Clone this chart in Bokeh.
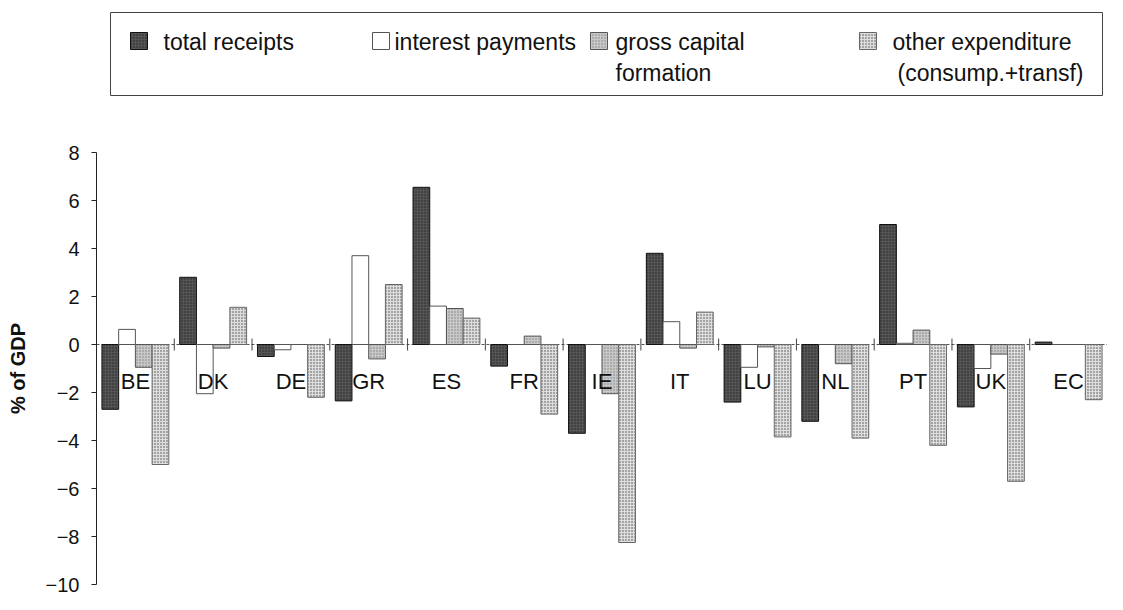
from bokeh.plotting import figure
from bokeh.models import ColumnDataSource, Range1d, FixedTicker
from bokeh.layouts import column
from bokeh.core.properties import value
from bokeh.embed import file_html
from bokeh.resources import INLINE

categories = ["BE", "DK", "DE", "GR", "ES", "FR", "IE", "IT", "LU", "NL", "PT", "UK", "EC"]
total_receipts = [-2.7, 2.8, -0.5, -2.35, 6.55, -0.9, -3.7, 3.8, -2.4, -3.2, 5.0, -2.6, 0.1]
interest_payments = [0.63, -2.05, -0.22, 3.7, 1.6, 0.0, 0.0, 0.95, -0.95, 0.0, 0.05, -1.0, 0.0]
gross_capital = [-0.95, -0.15, 0.0, -0.6, 1.5, 0.35, -2.05, -0.15, -0.1, -0.8, 0.6, -0.4, 0.0]
other_expenditure = [-5.0, 1.55, -2.2, 2.5, 1.1, -2.9, -8.25, 1.35, -3.85, -3.9, -4.2, -5.7, -2.3]
y_ticks = [-10, -8, -6, -4, -2, 0, 2, 4, 6, 8]

FONT = "Liberation Sans"
W = 1107
LEFT = 96

series = [
    ("total receipts", total_receipts, dict(fill_color="#555555", line_color="#111111",
                                            hatch_pattern="dot", hatch_color="#222222",
                                            hatch_scale=3, hatch_weight=1)),
    ("interest payments", interest_payments, dict(fill_color="white", line_color="#555555")),
    ("gross capital formation", gross_capital, dict(fill_color="#c8c8c8", line_color="#555555",
                                                    hatch_pattern="dot", hatch_color="#808080",
                                                    hatch_scale=3, hatch_weight=1)),
    ("other expenditure", other_expenditure, dict(fill_color="#dedede", line_color="#666666",
                                                  hatch_pattern="dot", hatch_color="#4a4a4a",
                                                  hatch_scale=3, hatch_weight=1.2)),
]
offsets = [-0.3225, -0.1075, 0.1075, 0.3225]
bar_w = 0.215

# ---------- legend figure (coordinates in pixels) ----------
LEG_H = 130
leg = figure(width=W, height=LEG_H, x_range=Range1d(LEFT, W), y_range=Range1d(LEG_H, 0),
             output_backend="svg", toolbar_location=None, x_axis_type=None, y_axis_type=None,
             min_border_left=LEFT, min_border_right=0, min_border_top=0, min_border_bottom=0)
leg.grid.visible = False
leg.outline_line_color = None
leg.quad(left=[110], right=[1102], top=[12], bottom=[95], fill_color=None,
         line_color="#444444", line_width=1)

sw_x = [130, 372, 590, 859]
txt_x = [163, 394, 615, 892]
labels_row1 = ["total receipts", "interest payments", "gross capital", "other expenditure"]
for (name, vals, style), sx, tx, lab in zip(series, sw_x, txt_x, labels_row1):
    leg.quad(left=[sx], right=[sx + 17], top=[32], bottom=[49], line_width=1, **style)
    leg.text(x=[tx], y=[41], text=[lab], text_font=value(FONT), text_font_size="23px",
             text_baseline="middle", text_align="left", text_color="#111111")
leg.text(x=[615, 897], y=[72, 72], text=["formation", "(consump.+transf)"],
         text_font=value(FONT), text_font_size="23px", text_baseline="middle",
         text_align="left", text_color="#111111")

# ---------- main chart ----------
p = figure(width=W, height=594 - LEG_H, x_range=Range1d(0, len(categories)),
           y_range=Range1d(-10, 8), output_backend="svg", toolbar_location=None,
           x_axis_type=None, min_border_left=LEFT, min_border_right=0,
           min_border_top=152 - LEG_H, min_border_bottom=10)
p.grid.visible = False
p.outline_line_color = None

n = len(categories)
idx = list(range(n))

# zero line and group separators
p.line(x=[0, n], y=[0, 0], line_color="#555555", line_width=1, line_dash="3 2")
p.segment(x0=idx[1:], x1=idx[1:], y0=[-0.25] * (n - 1), y1=[0.25] * (n - 1),
          line_color="#444444", line_width=1)

for (name, vals, style), off in zip(series, offsets):
    src = ColumnDataSource(dict(x=[i + 0.5 + off for i in idx], top=vals, bottom=[0] * n))
    p.vbar(x="x", top="top", bottom="bottom", width=bar_w, source=src, line_width=1, **style)

p.text(x=[i + 0.5 for i in idx], y=[-1.55] * n, text=categories, text_font=value(FONT),
       text_font_size="22px", text_align="center", text_baseline="middle", text_color="#111111")

ax = p.yaxis[0]
ax.ticker = FixedTicker(ticks=y_ticks)
ax.minor_tick_line_color = None
ax.major_tick_out = 5
ax.major_tick_in = 0
ax.axis_line_color = "#222222"
ax.major_tick_line_color = "#222222"
ax.major_label_text_font = FONT
ax.major_label_text_font_size = "20px"
ax.major_label_text_color = "#111111"
ax.major_label_standoff = 12
ax.axis_label = "% of GDP"
ax.axis_label_text_font = FONT
ax.axis_label_text_font_style = "bold"
ax.axis_label_text_font_size = "20px"
ax.axis_label_text_color = "#111111"
ax.axis_label_standoff = 14

layout = column(leg, p, spacing=0)
open("out.html", "w").write(file_html(layout, INLINE))
